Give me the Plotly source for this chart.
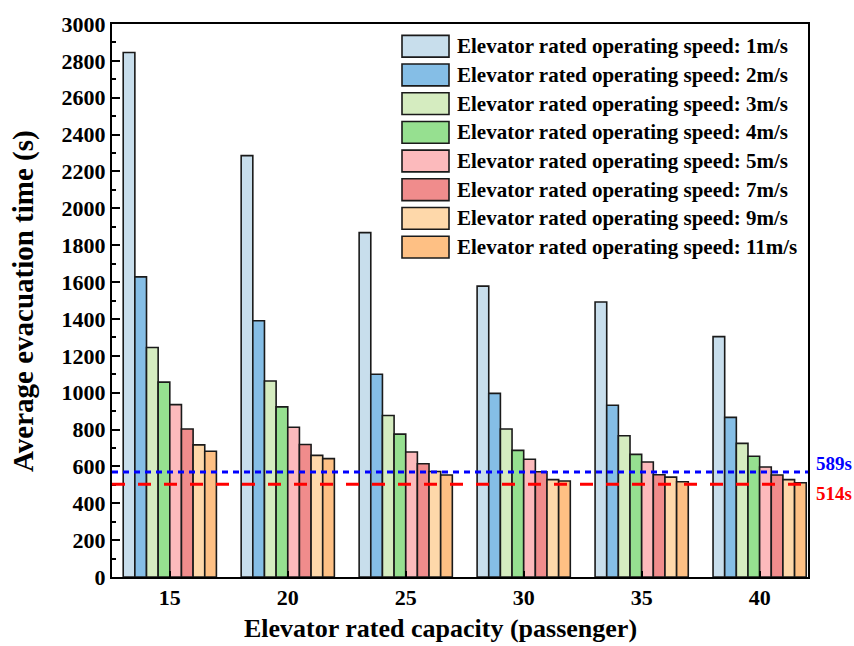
import plotly.graph_objects as go

capacities = ["15", "20", "25", "30", "35", "40"]
speeds = ["1m/s", "2m/s", "3m/s", "4m/s", "5m/s", "7m/s", "9m/s", "11m/s"]
values = {
    "1m/s":  [2845, 2286, 1868, 1578, 1492, 1304],
    "2m/s":  [1628, 1390, 1100, 996, 932, 866],
    "3m/s":  [1245, 1063, 876, 803, 766, 725],
    "4m/s":  [1057, 923, 775, 687, 665, 655],
    "5m/s":  [935, 812, 678, 639, 624, 597],
    "7m/s":  [803, 719, 614, 571, 555, 553],
    "9m/s":  [717, 660, 572, 528, 542, 528],
    "11m/s": [682, 642, 553, 521, 517, 511],
}
colors = ["#C8DEEC", "#85BEE6", "#D5ECC0", "#96E090", "#FCBABC", "#F08C8C", "#FED8AA", "#FEC084"]
line_blue_val = 570
line_red_val = 503
label_blue = "589s"
label_red = "514s"
x_title = "Elevator rated capacity (passenger)"
y_title = "Average evacuation time (s)"

FONT = "Liberation Serif"

fig = go.Figure()
for s, c in zip(speeds, colors):
    fig.add_trace(go.Bar(
        x=capacities, y=values[s], name="Elevator rated operating speed: " + s,
        marker=dict(color=c, line=dict(color="#1a1a1a", width=1.6)),
        showlegend=False,
    ))

# reference lines
fig.add_shape(type="line", xref="paper", x0=0, x1=1, yref="y", y0=line_blue_val, y1=line_blue_val,
              line=dict(color="#0000FF", width=3, dash="6px,5px"))
fig.add_shape(type="line", xref="paper", x0=0, x1=1, yref="y", y0=line_red_val, y1=line_red_val,
              line=dict(color="#FF0000", width=3, dash="13px,13px"))
fig.add_annotation(xref="paper", x=1.008, yref="y", y=line_blue_val, yshift=8, text=label_blue,
                   showarrow=False, xanchor="left", yanchor="middle",
                   font=dict(family=FONT, size=19, color="#0000FF", weight="bold"))
fig.add_annotation(xref="paper", x=1.008, yref="y", y=line_red_val, yshift=-9, text=label_red,
                   showarrow=False, xanchor="left", yanchor="middle",
                   font=dict(family=FONT, size=19, color="#FF0000", weight="bold"))

# manual legend
L, T, W, H = 112, 18, 696, 559
def px(x): return (x - L) / W
def py(y): return (T + H - y) / H
for i, (s, c) in enumerate(zip(speeds, colors)):
    cy = 40.5 + 29 * i
    fig.add_shape(type="rect", xref="paper", yref="paper",
                  x0=px(402), x1=px(449), y0=py(cy + 11), y1=py(cy - 11),
                  fillcolor=c, line=dict(color="#1a1a1a", width=1.6))
    fig.add_annotation(xref="paper", yref="paper", x=px(455), y=py(cy),
                       text="Elevator rated operating speed: " + s, showarrow=False,
                       xanchor="left", yanchor="middle",
                       font=dict(family=FONT, size=21, color="black", weight="bold"))

# axis titles
fig.add_annotation(xref="paper", yref="paper", x=px(440), y=py(629), text=x_title,
                   showarrow=False, xanchor="center", yanchor="middle",
                   font=dict(family=FONT, size=26, color="black", weight="bold"))
fig.add_annotation(xref="paper", yref="paper", x=px(24), y=py(298), text=y_title,
                   showarrow=False, xanchor="center", yanchor="middle", textangle=-90,
                   font=dict(family=FONT, size=29, color="black", weight="bold"))

fig.update_layout(
    width=854, height=646,
    margin=dict(l=L, r=854 - L - W, t=T, b=646 - T - H),
    plot_bgcolor="white", paper_bgcolor="white",
    barmode="group", bargap=0.21, bargroupgap=0,
    font=dict(family=FONT, color="black"),
)
fig.update_xaxes(
    type="category", range=[-0.49, 5.41],
    showline=True, linecolor="black", linewidth=2, mirror=True,
    ticks="inside", ticklen=6, tickwidth=2, tickcolor="black",
    tickfont=dict(family=FONT, size=22, weight="bold"),
    showgrid=False,
)
fig.update_yaxes(
    range=[0, 3000], dtick=200,
    showline=True, linecolor="black", linewidth=2, mirror=True,
    ticks="inside", ticklen=8, tickwidth=2, tickcolor="black",
    minor=dict(ticks="inside", ticklen=4, tickwidth=2, dtick=100, tickcolor="black"),
    tickfont=dict(family=FONT, size=22, weight="bold"),
    showgrid=False, zeroline=False,
)

fig.write_html("out.html")
